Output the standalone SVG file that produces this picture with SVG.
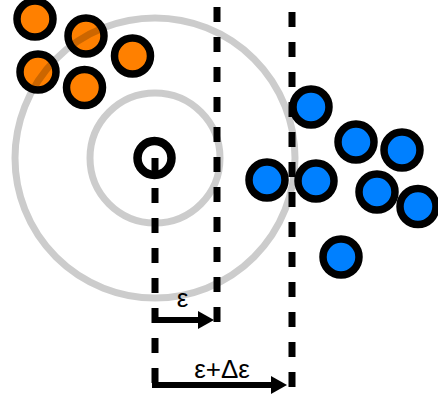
<svg xmlns="http://www.w3.org/2000/svg" width="438" height="399" viewBox="0 0 438 399">
  <style>
    .orange { fill: #ff8000; stroke: #000; stroke-width: 7.5; }
    .blue { fill: #0080ff; stroke: #000; stroke-width: 7.5; }
    .ring { fill: none; stroke: #000; stroke-opacity: 0.2; stroke-width: 7; }
    .dash { fill: none; stroke: #000; stroke-width: 7; stroke-dasharray: 15 15; }
    .shaft { fill: none; stroke: #000; stroke-width: 6; }
    .label { font-family: "Liberation Sans", Arial, sans-serif; font-size: 26px; fill: #000; text-anchor: middle; }
  </style>
  <defs>
    <marker id="head" markerUnits="userSpaceOnUse" markerWidth="16" markerHeight="18" refX="6" refY="9" orient="auto">
      <path d="M0,0 L16,9 L0,18 Z" fill="#000"/>
    </marker>
  </defs>

  <!-- orange cluster -->
  <g id="orange-1"><circle class="orange" cx="35" cy="19" r="18"/></g>
  <g id="orange-2"><circle class="orange" cx="86" cy="36" r="18"/></g>
  <g id="orange-3"><circle class="orange" cx="132.5" cy="56" r="18"/></g>
  <g id="orange-4"><circle class="orange" cx="38" cy="72" r="18"/></g>
  <g id="orange-5"><circle class="orange" cx="84.5" cy="87.5" r="18"/></g>

  <!-- neighbourhood rings around the query point -->
  <g id="rings">
    <circle class="ring" cx="155" cy="158" r="140"/>
    <circle class="ring" cx="155" cy="158" r="65"/>
  </g>

  <!-- query point -->
  <g id="query"><circle cx="154.5" cy="158" r="17" fill="#fff" stroke="#000" stroke-width="8.5"/></g>

  <g id="connectors">
    <line class="dash" x1="155" y1="158" x2="155" y2="385"/>
    <line class="dash" x1="217" y1="7" x2="217" y2="324"/>
    <line class="dash" x1="292" y1="12" x2="292" y2="390"/>
    <line class="shaft" x1="152" y1="320" x2="204" y2="320" marker-end="url(#head)"/>
    <line class="shaft" x1="152" y1="385" x2="277" y2="385" marker-end="url(#head)"/>
  </g>

  <!-- blue cluster -->
  <g id="blue-1"><circle class="blue" cx="311" cy="107" r="18"/></g>
  <g id="blue-2"><circle class="blue" cx="356" cy="142" r="18"/></g>
  <g id="blue-3"><circle class="blue" cx="402" cy="150" r="18"/></g>
  <g id="blue-4"><circle class="blue" cx="267" cy="180" r="18"/></g>
  <g id="blue-5"><circle class="blue" cx="316" cy="181" r="18"/></g>
  <g id="blue-6"><circle class="blue" cx="377" cy="192" r="18"/></g>
  <g id="blue-7"><circle class="blue" cx="418" cy="206.5" r="18"/></g>
  <g id="blue-8"><circle class="blue" cx="341" cy="257" r="18"/></g>

  <g id="labels">
    <text class="label" x="182.5" y="307">ε</text>
    <text class="label" x="222" y="378">ε+Δε</text>
  </g>
</svg>
